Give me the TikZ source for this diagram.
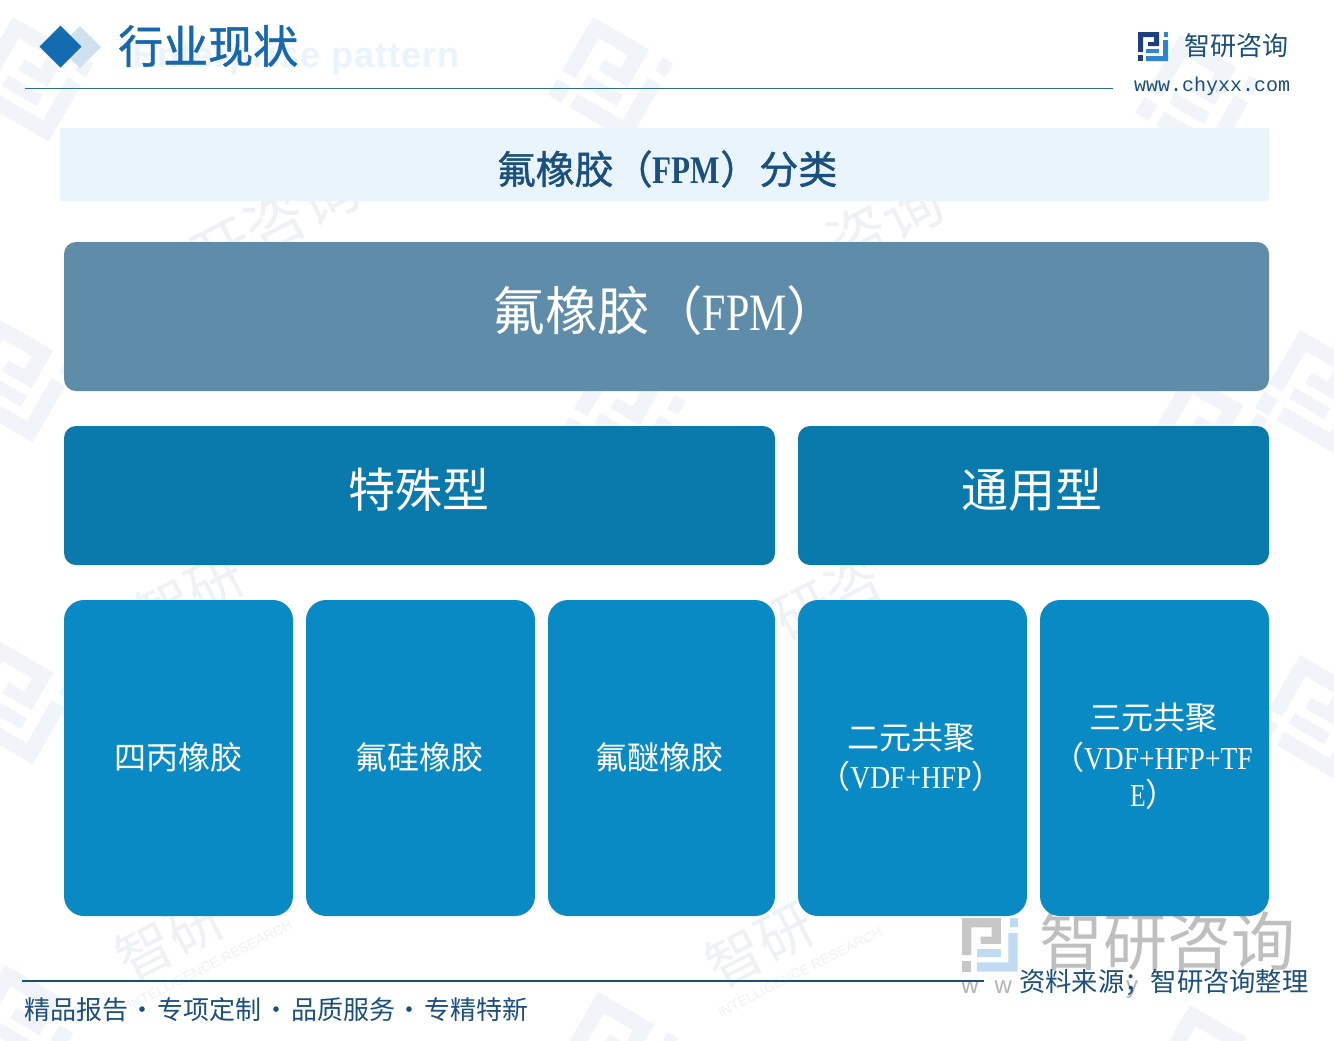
\documentclass[tikz,border=0pt]{standalone}
\usepackage{fontspec}
\setmainfont{Noto Sans CJK SC}
\newfontfamily\cjkmed[FakeBold=1.1]{Noto Sans CJK SC}
\newfontfamily\latnar[FakeStretch=0.8]{Liberation Serif}
\newfontfamily\latwide[FakeStretch=0.86]{Liberation Serif}
\newfontfamily\ghostf[LetterSpace=3]{Liberation Sans}
\newfontfamily\monof{Liberation Mono}
\newfontfamily\plainsans{Liberation Sans}
\definecolor{topbox}{HTML}{5E8CA9}
\definecolor{midbox}{HTML}{0A79AC}
\definecolor{lowbox}{HTML}{0A8AC4}
\definecolor{band}{HTML}{E9F4FC}
\definecolor{rulec}{HTML}{2E6E93}
\definecolor{heading}{HTML}{1767AC}
\definecolor{deep}{HTML}{1B4F7E}
\definecolor{wmfill}{HTML}{F1F4F8}
\definecolor{wmtext}{HTML}{EFF2F5}
\definecolor{logodark}{HTML}{1F3F7F}
\definecolor{logoblue}{HTML}{2E86D0}
\definecolor{diamonda}{HTML}{136BB0}
\definecolor{diamondb}{HTML}{CFE0EE}
\newcommand{\fs}[1]{\fontsize{\dimexpr#1pt*3/4\relax}{\dimexpr#1pt*3/4\relax}\selectfont}
\newcommand{\sepdot}{\hspace{1.3pt}·\hspace{1.3pt}}
\newcommand{\logomark}[2]{%
  \fill[#1] (0,0)--(21,0)--(21,14)--(10,14)--(10,10)--(16,10)--(16,5)--(5,5)--(5,20)--(0,20)--cycle;
  \fill[#1] (0,23) rectangle (5,29);
  \fill[#2] (26,0) rectangle (30,5);
  \fill[#2] (25,8)--(30,8)--(30,29)--(8,29)--(8,24)--(25,24)--cycle;
  \fill[#2] (8,17) rectangle (21,21);}
\newcommand{\wmlogo}[2]{\begin{scope}[shift={(#1,#2)},rotate=-30,scale=3.1]\logomark{wmfill}{wmfill}\end{scope}}
\tikzset{
  x=0.75pt,y=-0.75pt,
  lbl/.style={inner sep=0pt,outer sep=0pt,text=white,align=center},
  wm/.style={inner sep=0pt,text=wmtext,rotate=27},
  tbox/.style={fill=topbox,rounded corners=9pt},
  mbox/.style={fill=midbox,rounded corners=9pt},
  lbox/.style={fill=lowbox,rounded corners=15pt},
}
\begin{document}
\begin{tikzpicture}
\useasboundingbox (0,0) rectangle (1334,1040);
\fill[white] (0,0) rectangle (1334,1040);
% faint watermarks
\wmlogo{13}{17}
\wmlogo{593}{17}
\wmlogo{1180}{35}
\wmlogo{-3}{318}
\wmlogo{605}{355}
\wmlogo{1187}{373}
\wmlogo{1300}{330}
\wmlogo{-3}{640}
\wmlogo{1300}{655}
\wmlogo{5}{965}
\wmlogo{598}{992}
\wmlogo{1190}{1005}
\node[wm,font=\fs{60}] (wa) at (275,222) {开咨询};
\node[wm,font=\fs{60}] (wb) at (885,222) {咨询};
\node[wm,font=\fs{56}] (wc) at (190,595) {智研};
\node[wm,font=\fs{56}] (wd) at (828,598) {研咨};
\node[wm,font=\fs{56}] (we) at (170,938) {智研};
\node[wm,font=\fs{56}] (wf) at (760,945) {智研};
\node[wm,font=\plainsans\fs{14}] (wg) at (800,972) {INTELLIGENCE RESEARCH};
\node[wm,font=\plainsans\fs{14}] (wh) at (210,965) {INTELLIGENCE RESEARCH};
% ghost subtitle
\node[inner sep=0pt,anchor=east,text=band,font=\ghostf\bfseries\fs{36}] (ghost) at (460,58) {Enterprise pattern};
% big grey watermark, bottom right
\begin{scope}[shift={(962,918)},scale=1.85]\logomark{black!22!white}{logoblue!30!white}\end{scope}
\node[inner sep=0pt,text=black!25!white,font=\fs{64}] (bigwm) at (1167,941) {智研咨询};
\node[inner sep=0pt,anchor=west,text=black!30!white,font=\plainsans\fs{24}] (wgrey) at (961,987) {w\hspace{12pt}w};
\node[inner sep=0pt,text=black!30!white,font=\plainsans\fs{24}] (ygrey) at (1132,990) {y};
% header
\fill[diamondb] (80,26)--(101,47)--(80,68)--(59,47)--cycle;
\fill[diamonda] (60.5,25.5)--(81.5,46.5)--(60.5,67.5)--(39.5,46.5)--cycle;
\node[inner sep=0pt,anchor=west,text=heading,font=\cjkmed\fs{45}] (hd) at (118,46) {行业现状};
\draw[rulec,line width=1.2pt] (25,88.5) -- (1113,88.5);
\begin{scope}[shift={(1138,32)}]\logomark{logodark}{logoblue}\end{scope}
\node[inner sep=0pt,anchor=west,text=deep,font=\fs{26}] (brand) at (1184,46) {智研咨询};
\node[inner sep=0pt,anchor=center,text=deep,font=\monof\fs{20}] (url) at (1212,86) {www.chyxx.com};
% title band
\fill[band] (60,128) rectangle (1269,201);
\node[inner sep=0pt,text=deep,font=\cjkmed\fs{39}] (ttl) at (667,169) {氟橡胶（{\latnar\bfseries FPM}）分类};
% boxes
\path[tbox] (64,242) rectangle (1269,391);
\path[mbox] (64,426) rectangle (775,565);
\path[mbox] (798,426) rectangle (1269,565);
\path[lbox] (64,600) rectangle (293,916);
\path[lbox] (306,600) rectangle (535,916);
\path[lbox] (548,600) rectangle (775,916);
\path[lbox] (798,600) rectangle (1027,916);
\path[lbox] (1040,600) rectangle (1269,916);
% labels
\node[lbl,font=\fs{52.5}] (fpm) at (666,311) {氟橡胶（{\latnar FPM}）};
\node[lbl,font=\fs{47}] (sp) at (419,490) {特殊型};
\node[lbl,font=\fs{47}] (gen) at (1032,490) {通用型};
\node[lbl,font=\fs{32}] (a) at (178,757) {四丙橡胶};
\node[lbl,font=\fs{32}] (b) at (419,757) {氟硅橡胶};
\node[lbl,font=\fs{32}] (c) at (659,757) {氟醚橡胶};
\node[lbl,font=\fs{32}] (d1) at (911,738) {二元共聚};
\node[lbl,font=\fs{32}] (d2) at (911,776) {（{\latwide VDF+HFP}）};
\node[lbl,font=\fs{32}] (e1) at (1153,718) {三元共聚};
\node[lbl,font=\fs{32},anchor=west] (e2) at (1052,757) {（{\latwide VDF+HFP+TF}};
\node[lbl,font=\fs{32},anchor=west] (e3) at (1130,794) {{\latnar E}）};
% footer
\draw[deep,line width=1.2pt] (22,981) -- (984,981);
\node[inner sep=0pt,anchor=west,text=deep,font=\fs{26}] (slogan) at (24,1010) {精品报告\sepdot 专项定制\sepdot 品质服务\sepdot 专精特新};
\node[inner sep=0pt,anchor=west,text=deep,font=\fs{26.3}] (src) at (1019,983) {资料来源；智研咨询整理};
\end{tikzpicture}
\end{document}
